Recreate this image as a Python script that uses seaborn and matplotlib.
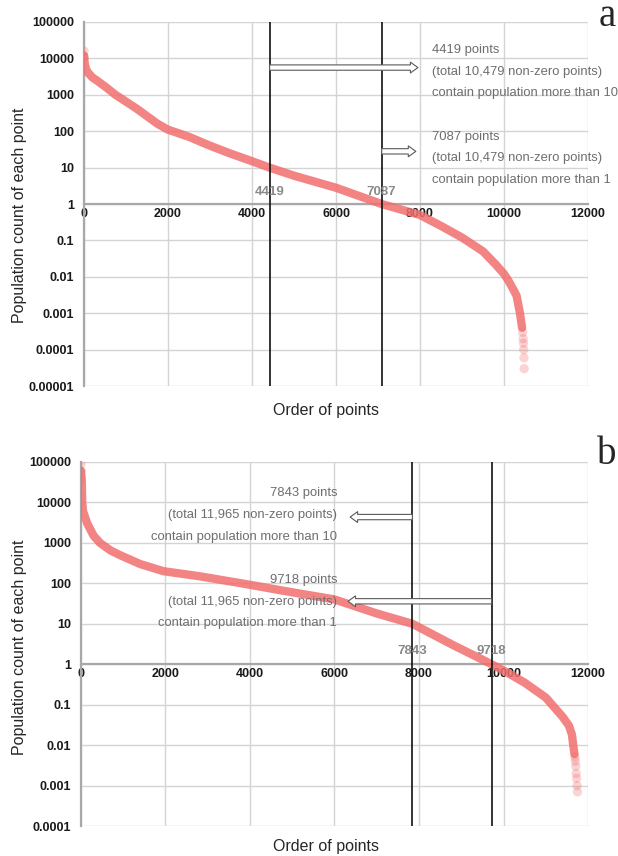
import numpy as np
import seaborn as sns
import matplotlib.pyplot as plt
from matplotlib.ticker import FixedLocator, FixedFormatter, NullLocator

# panel a: ranked population count
a_x = [0, 20, 50, 100, 200, 300, 500, 750, 1000, 1250, 1500, 1750, 2000, 2250, 2500,
       3000, 3500, 4000, 4419, 5000, 6000, 7087, 8000, 8500, 9000, 9500, 9800, 10000,
       10100, 10200, 10300, 10380, 10430]
a_y = [12000, 7000, 5000, 4000, 3000, 2500, 1700, 1000, 650, 420, 260, 160, 110, 88, 70,
       40, 24, 15, 10, 6, 2.8, 1, 0.5, 0.25, 0.12, 0.05, 0.022, 0.012,
       0.008, 0.005, 0.003, 0.001, 0.0004]
a_tail_x = [0, 5, 10445, 10455, 10465, 10470, 10475, 10479]
a_tail_y = [16000, 11000, 0.0003, 0.0002, 0.00015, 0.0001, 0.00006, 0.00003]

# panel b
b_x = [0, 20, 30, 50, 150, 300, 450, 700, 920, 1400, 1950, 2800, 3800, 5000, 6000,
       7000, 7843, 8800, 9718, 10000, 10500, 11000, 11400, 11550, 11620, 11650, 11680]
b_y = [60000, 30000, 10000, 6000, 3000, 1500, 1000, 650, 500, 300, 200, 150, 100, 60, 40,
       18, 10, 3, 1, 0.7, 0.35, 0.15, 0.05, 0.03, 0.018, 0.01, 0.006]
b_tail_x = [0, 5, 10, 11690, 11700, 11710, 11720, 11730, 11740, 11750]
b_tail_y = [90000, 60000, 40000, 0.005, 0.004, 0.003, 0.002, 0.0015, 0.001, 0.0007]

a_marks = [4419, 7087]
b_marks = [7843, 9718]
a_total = "10,479"
b_total = "11,965"

x_ticks = [0, 2000, 4000, 6000, 8000, 10000, 12000]
a_yticks = [1e-5, 1e-4, 1e-3, 1e-2, 1e-1, 1, 10, 100, 1000, 10000, 100000]
a_ylabels = ["0.00001", "0.0001", "0.001", "0.01", "0.1", "1", "10", "100", "1000", "10000", "100000"]
b_yticks = a_yticks[1:]
b_ylabels = a_ylabels[1:]

sns.set_theme(style="white")
plt.rcParams['font.family'] = ['Liberation Sans', 'DejaVu Sans']

RED = "#f26e6e"
GREY_TXT = "#6e6e6e"
NOTE_FS = 9.4

fig = plt.figure(figsize=(6.18, 8.56), dpi=100)
ax_a = fig.add_axes([0.1359, 0.549, 0.8156, 0.4253])
ax_b = fig.add_axes([0.131, 0.035, 0.8205, 0.4253])


def setup(ax, yticks, ylabels):
    ax.set_yscale("log")
    ax.set_xlim(0, 12000)
    ax.set_ylim(yticks[0], yticks[-1])
    ax.yaxis.set_major_locator(FixedLocator(yticks))
    ax.yaxis.set_major_formatter(FixedFormatter(ylabels))
    ax.yaxis.set_minor_locator(NullLocator())
    ax.set_xticks(x_ticks)
    ax.set_xticklabels([str(t) for t in x_ticks])
    ax.grid(True, color="#d4d4d4", lw=1.0)
    ax.set_axisbelow(True)
    for s in ["top", "right"]:
        ax.spines[s].set_visible(False)
    ax.spines["left"].set_color("#a8a8a8")
    ax.spines["left"].set_linewidth(1.6)
    ax.spines["bottom"].set_position(("data", 1))
    ax.spines["bottom"].set_color("#a8a8a8")
    ax.spines["bottom"].set_linewidth(1.6)
    ax.tick_params(axis="y", length=0, labelsize=9, pad=7)
    ax.tick_params(axis="x", length=0, labelsize=9, pad=3)
    for lab in ax.get_xticklabels() + ax.get_yticklabels():
        lab.set_fontweight("bold")
        lab.set_color("#1a1a1a")
    ax.set_xlabel("")
    ax.set_ylabel("")


def curve(ax, xs, ys, tx, ty):
    sns.lineplot(x=xs, y=ys, ax=ax, color=RED, lw=6, alpha=0.85, sort=False,
                 solid_capstyle="round", solid_joinstyle="round", zorder=3)
    sns.scatterplot(x=tx, y=ty, ax=ax, color=RED, s=45, alpha=0.3,
                    edgecolor="none", zorder=3)


def arrow(ax, start, end):
    ax.annotate("", xy=end, xytext=start, annotation_clip=False,
                arrowprops=dict(arrowstyle="simple,head_length=0.45,head_width=0.65,tail_width=0.32",
                                fc="white", ec="#5a5a5a", lw=0.8, shrinkA=0, shrinkB=0),
                zorder=5)


# ---- panel a
setup(ax_a, a_yticks, a_ylabels)
curve(ax_a, a_x, a_y, a_tail_x, a_tail_y)
for m in a_marks:
    ax_a.axvline(m, color="#111111", lw=1.2, zorder=4)
    ax_a.text(m, 2.1, str(m), ha="center", va="center", fontsize=9.5,
              fontweight="bold", color="#8a8a8a", zorder=6)
arrow(ax_a, (a_marks[0], 5600), (7950, 5600))
arrow(ax_a, (a_marks[1], 28), (7900, 28))
for yv, s in zip([17000, 4250, 1120],
                 [f"{a_marks[0]} points", f"(total {a_total} non-zero points)",
                  "contain population more than 10"]):
    ax_a.text(8290, yv, s, ha="left", va="center", fontsize=NOTE_FS, color=GREY_TXT,
              clip_on=False, zorder=6)
for yv, s in zip([69, 18, 4.6],
                 [f"{a_marks[1]} points", f"(total {a_total} non-zero points)",
                  "contain population more than 1"]):
    ax_a.text(8290, yv, s, ha="left", va="center", fontsize=NOTE_FS, color=GREY_TXT,
              clip_on=False, zorder=6)

# ---- panel b
setup(ax_b, b_yticks, b_ylabels)
curve(ax_b, b_x, b_y, b_tail_x, b_tail_y)
for m in b_marks:
    ax_b.axvline(m, color="#111111", lw=1.2, zorder=4)
    ax_b.text(m, 2.1, str(m), ha="center", va="center", fontsize=9.5,
              fontweight="bold", color="#8a8a8a", zorder=6)
arrow(ax_b, (b_marks[0], 4350), (6370, 4350))
arrow(ax_b, (b_marks[1], 36), (6320, 36))
for yv, s in zip([17000, 4900, 1390],
                 [f"{b_marks[0]} points", f"(total {b_total} non-zero points)",
                  "contain population more than 10"]):
    ax_b.text(6060, yv, s, ha="right", va="center", fontsize=NOTE_FS, color=GREY_TXT, zorder=6)
for yv, s in zip([120, 34, 10.3],
                 [f"{b_marks[1]} points", f"(total {b_total} non-zero points)",
                  "contain population more than 1"]):
    ax_b.text(6060, yv, s, ha="right", va="center", fontsize=NOTE_FS, color=GREY_TXT, zorder=6)

# axis titles and panel letters
fig.text(326 / 618, 1 - 410 / 856, "Order of points", ha="center", va="center", fontsize=11.5)
fig.text(20 / 618, 1 - 215 / 856, "Population count of each point", ha="center",
         va="center", rotation=90, fontsize=11.5)
fig.text(326 / 618, 1 - 846 / 856, "Order of points", ha="center", va="center", fontsize=11.5)
fig.text(20 / 618, 1 - 647 / 856, "Population count of each point", ha="center",
         va="center", rotation=90, fontsize=11.5)
fig.text(607 / 618, 1 - 17 / 856, "a", ha="center", va="center", fontsize=28,
         family="Liberation Serif")
fig.text(607 / 618, 1 - 455 / 856, "b", ha="center", va="center", fontsize=28,
         family="Liberation Serif")

fig.savefig("out.png", dpi=100)
